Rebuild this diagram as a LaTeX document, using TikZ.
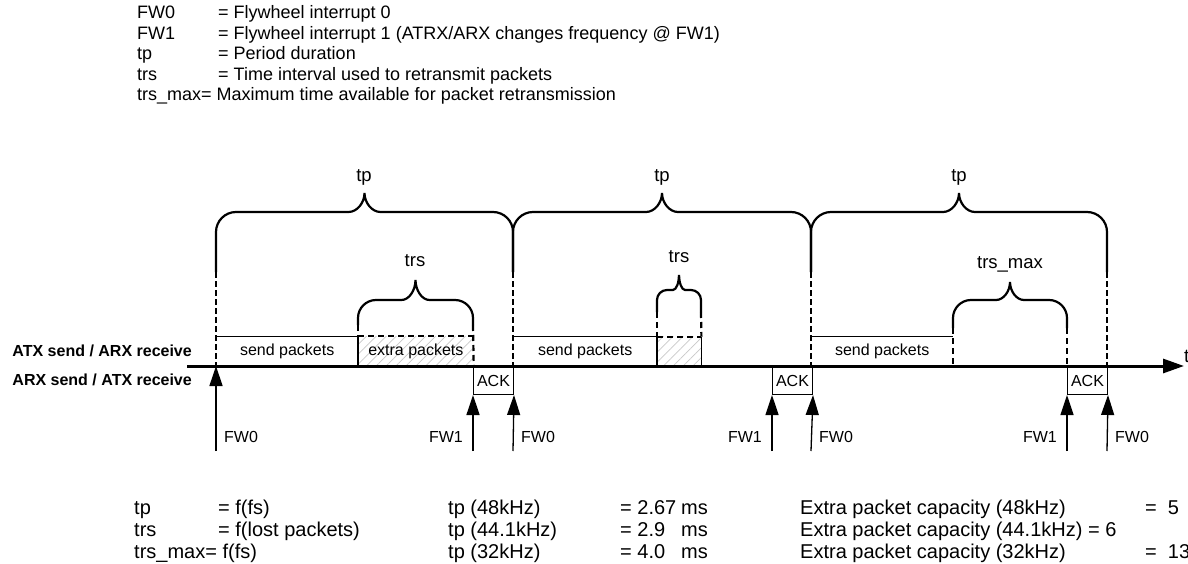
\documentclass[tikz,border=0pt]{standalone}
\usepackage{fontspec}
\setmainfont{Liberation Sans}
\usetikzlibrary{arrows.meta,positioning,patterns.meta}
\definecolor{hatchgray}{RGB}{200,200,200}

% brace with long legs: x1, x2, leg end, bar, tip, corner radius, cusp half width
\newcommand{\legbrace}[7]{%
  \draw[bracepen] (#1,#3) -- (#1,{#4+#6})
    .. controls (#1,{#4+0.45*#6}) and ({#1+0.45*#6},#4) .. ({#1+#6},#4)
    -- ({(#1+#2)/2-#7},#4)
    .. controls ({(#1+#2)/2-0.45*#7},#4) and ({(#1+#2)/2},{#4-0.5*(#4-#5)}) .. ({(#1+#2)/2},#5)
    .. controls ({(#1+#2)/2},{#4-0.5*(#4-#5)}) and ({(#1+#2)/2+0.45*#7},#4) .. ({(#1+#2)/2+#7},#4)
    -- ({#2-#6},#4)
    .. controls ({#2-0.45*#6},#4) and (#2,{#4+0.45*#6}) .. (#2,{#4+#6})
    -- (#2,#3);}

\begin{document}
\begin{tikzpicture}[x=1pt,y=-1pt,
  hdr/.style={font=\fontsize{18}{20}\selectfont,inner sep=0pt,anchor=base west},
  btm/.style={font=\fontsize{20}{22}\selectfont,inner sep=0pt,anchor=base west},
  lane/.style={font=\bfseries\fontsize{16}{18}\selectfont,inner sep=0pt,anchor=base east},
  span/.style={font=\fontsize{18.5}{20}\selectfont,inner sep=0pt,anchor=base},
  pktbox/.style={minimum height=29pt,inner sep=0pt,anchor=south west,font=\fontsize{16}{18}\selectfont},
  ackbox/.style={draw,line width=1pt,minimum width=40pt,minimum height=28pt,inner sep=0pt,
                 anchor=north west,font=\fontsize{16}{18}\selectfont},
  hatched/.style={pattern={Lines[angle=45,distance=7pt,line width=0.7pt]},pattern color=hatchgray},
  axis/.style={line width=3pt,-{Triangle[length=21pt,width=14pt]}},
  fw/.style={line width=1.3pt,-{Triangle[length=20pt,width=13pt]}},
  fwlbl/.style={font=\fontsize{16}{18}\selectfont,inner sep=0pt},
  bracepen/.style={line width=2.2pt},
  perline/.style={line width=2.8pt,dash pattern=on 6pt off 3pt},
  legline/.style={line width=2.2pt,dash pattern=on 6pt off 4pt},
  thinline/.style={line width=1pt}]
\useasboundingbox (0,0) rectangle (1188,564);

% legend on top
\foreach \k/\v [count=\i] in {FW0/{= Flywheel interrupt 0},
    FW1/{= Flywheel interrupt 1 (ATRX/ARX changes frequency @ FW1)},
    tp/{= Period duration}, trs/{= Time interval used to retransmit packets}}{
  \node[hdr] (hk\i) at (137,{19+20.5*(\i-1)}) {\k};
  \node[hdr] (hv\i) at (218,{19+20.5*(\i-1)}) {\v};
}
\node[hdr] (hk5) at (137,101) {trs\_max= Maximum time available for packet retransmission};

% lanes and time axis
\node[lane] (atx) at (192,356) {ATX send / ARX receive};
\node[lane] (arx) at (192,385) {ARX send / ATX receive};
\coordinate (t0) at (187,366);
\coordinate (t1) at (1184,366);
\node[font=\fontsize{19}{20}\selectfont,inner sep=0pt,anchor=base west] (tlbl) at (1184,362) {t};

% packets
\foreach \x/\w [count=\i] in {216/142,513/144,811/142}
  \node[pktbox,minimum width=\w] (send\i) at (\x,366) {send packets};
\node[pktbox,hatched,minimum width=115] (extra1) at (358,366) {extra packets};
\node[pktbox,hatched,minimum width=44] (extra2) at (657,366) {};
\draw[thinline] (send1.north west) -- (send1.north east) -- (send1.south east);
\draw[thinline] (send2.north west) -- (send2.north east) -- (send2.south east);
\draw[thinline] (send3.north west) -- (send3.north east);
\draw[line width=1.6pt] (extra1.north west) -- (extra1.south west);
\draw[line width=1.6pt] (extra2.north west) -- (extra2.south west);
\draw[line width=1.6pt] (extra2.north east) -- (extra2.south east);
\draw[legline] (extra1.north west) -- (extra1.north east);
\draw[legline] (extra2.north west) -- (extra2.north east);

% acknowledges
\foreach \x [count=\i] in {473,772,1067}
  \node[ackbox] (ack\i) at (\x,366) {ACK};

% period boundaries and braces
\foreach \x in {216,513,811,1107}
  \draw[perline] (\x,272) -- (\x,366);
\legbrace{216}{513}{272}{212}{193}{20}{16}
\legbrace{513}{811}{272}{212}{193}{20}{16}
\legbrace{811}{1107}{272}{212}{193}{20}{16}
\foreach \m [count=\i] in {364,662,959}
  \node[span] (tp\i) at (\m,182) {tp};

\legbrace{358}{473}{325}{300}{280}{18}{14}
\legbrace{657}{701}{312}{290}{275}{10}{6}
\legbrace{953}{1067}{328}{300}{282}{18}{14}
\draw[legline] (358,325) -- (extra1.north west);
\draw[legline] (473,325) -- (extra1.south east);
\draw[legline] (657,312) -- (extra2.north west);
\draw[legline] (701,312) -- (extra2.north east);
\draw[legline] (953,328) -- (953,366);
\draw[legline] (1067,328) -- (ack3.north west);
\node[span] (trs1) at (415,266) {trs};
\node[span] (trs2) at (679,262) {trs};
\node[span] (trsmax) at (1010,268) {trs\_max};

\draw[axis] (t0) -- (t1);

% flywheel interrupts
\foreach \x [count=\i] in {216,513,811,1107}
  \coordinate (fz\i) at (\x,451);
\foreach \x [count=\i] in {473,772,1067}
  \coordinate (fo\i) at (\x,451);
\draw[fw] (fz1) -- (t0 -| fz1);
\draw[fw] (fz2) -- (ack1.south east);
\draw[fw] (fz3) -- (ack2.south east);
\draw[fw] (fz4) -- (ack3.south east);
\draw[fw] (fo1) -- (ack1.south west);
\draw[fw] (fo2) -- (ack2.south west);
\draw[fw] (fo3) -- (ack3.south west);
\foreach \i in {1,2,3,4}
  \node[fwlbl,anchor=base west] (fzl\i) at ([shift={(8,-9)}]fz\i) {FW0};
\foreach \i in {1,2,3}
  \node[fwlbl,anchor=base east] (fol\i) at ([shift={(-10,-9)}]fo\i) {FW1};

% formulas below
\foreach \a/\b/\c/\d/\e [count=\i] in {tp/{= f(fs)}/{tp (48kHz)}/{= 2.67}/{Extra packet capacity (48kHz)},
    trs/{= f(lost packets)}/{tp (44.1kHz)}/{= 2.9}/{Extra packet capacity (44.1kHz) = 6},
    {trs\_max= f(fs)}/{}/{tp (32kHz)}/{= 4.0}/{Extra packet capacity (32kHz)}}{
  \node[btm] (ba\i) at (134,{514+22*(\i-1)}) {\a};
  \node[btm] (bb\i) at (218,{514+22*(\i-1)}) {\b};
  \node[btm] (bc\i) at (448,{514+22*(\i-1)}) {\c};
  \node[btm] (bd\i) at (620,{514+22*(\i-1)}) {\d};
  \node[btm] (bm\i) at (681,{514+22*(\i-1)}) {ms};
  \node[btm] (be\i) at (800,{514+22*(\i-1)}) {\e};
}
\node[btm] (bn1) at (1145,514) {=\ \ 5};
\node[btm] (bn3) at (1145,558) {=\ \ 13};
\end{tikzpicture}
\end{document}
